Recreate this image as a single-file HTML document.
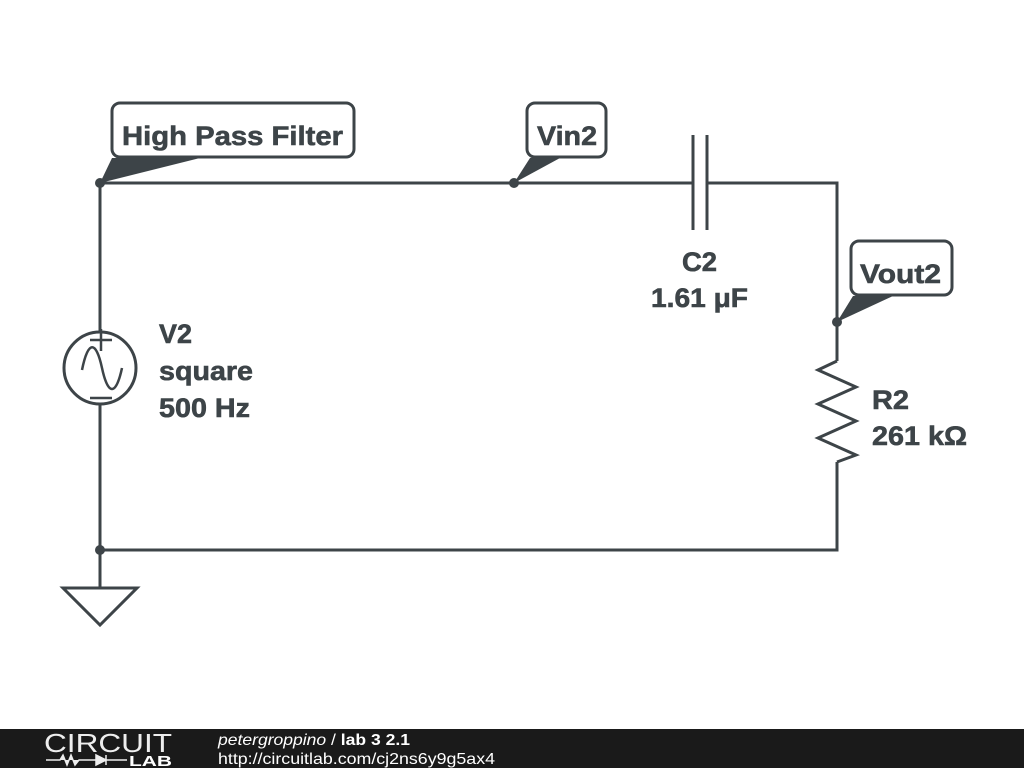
<!DOCTYPE html>
<html><head><style>
body{margin:0;width:1024px;height:768px;background:#fff;overflow:hidden;position:relative;font-family:"Liberation Sans","DejaVu Sans",sans-serif}
.bar{position:absolute;left:0;top:729px;width:1024px;height:39px;background:#1a1a1a}
</style></head><body>
<svg width="1024" height="768" style="position:absolute;left:0;top:0">
<g stroke="#3d4448" stroke-width="3" fill="none">
<path d="M100 183 H693 M707 183 H837 V361 M837 462 V550 H100 V183"/>
<path d="M693 135 V230 M707 135 V230"/>
<path d="M100 550 V588"/>
<path d="M63 588 H137 L100 625 Z"/>
<path d="M837 361 L818 370 L856 387 L818 404 L856 421 L818 438 L856 455 L837 462"/>
<circle cx="100" cy="368" r="36" fill="#fff"/>
<path d="M100 311 V332 M100 404 V420" />
<path d="M90 340 H112 M101 329 V351 M90 398 H112" stroke-width="2.5"/>
<path d="M82 370 C88 340 96 340 102 368 C108 396 116 396 122 368" stroke-width="2.5"/>
<rect x="112" y="103" width="242" height="54" rx="8" fill="#fff"/>
<rect x="527" y="103" width="79" height="54" rx="8" fill="#fff"/>
<rect x="851" y="241" width="101" height="54" rx="8" fill="#fff"/>
</g>
<g fill="#3d4448">
<path d="M100 183 L112 158 L200 158 Z"/>
<path d="M514 183 L530 158 L560 158 Z"/>
<path d="M837 322 L853 296 L893 296 Z"/>
<circle cx="100" cy="183" r="5"/><circle cx="514" cy="183" r="5"/>
<circle cx="837" cy="322" r="5"/><circle cx="100" cy="550" r="5"/>
</g>
<g fill="#3d4448" stroke="#3d4448" stroke-width="0.6" style="font-weight:bold;font-size:27px;font-family:'Liberation Sans',sans-serif">
<text x="122" y="145" textLength="221" lengthAdjust="spacingAndGlyphs">High Pass Filter</text>
<text x="537" y="145" textLength="60" lengthAdjust="spacingAndGlyphs">Vin2</text>
<text x="860" y="283" textLength="81" lengthAdjust="spacingAndGlyphs">Vout2</text>
<text x="682" y="271" textLength="35" lengthAdjust="spacingAndGlyphs">C2</text>
<text x="651" y="307" textLength="97" lengthAdjust="spacingAndGlyphs">1.61 μF</text>
<text x="159" y="343" textLength="33" lengthAdjust="spacingAndGlyphs">V2</text>
<text x="159" y="380" textLength="94" lengthAdjust="spacingAndGlyphs">square</text>
<text x="159" y="417" textLength="91" lengthAdjust="spacingAndGlyphs">500 Hz</text>
<text x="872" y="409" textLength="37" lengthAdjust="spacingAndGlyphs">R2</text>
<text x="872" y="445" textLength="95" lengthAdjust="spacingAndGlyphs">261 kΩ</text>
</g>
<g fill="#fff" font-family="Liberation Sans, sans-serif">
<text x="44" y="752" font-size="26" textLength="128" lengthAdjust="spacingAndGlyphs" fill="#eee">CIRCUIT</text>
<text x="129" y="766" font-size="15" font-weight="bold" textLength="43" lengthAdjust="spacingAndGlyphs">LAB</text>
<text x="218" y="745" font-size="16" textLength="192" lengthAdjust="spacingAndGlyphs"><tspan font-style="italic">petergroppino</tspan> / <tspan font-weight="bold">lab 3 2.1</tspan></text>
<text x="218" y="764" font-size="16" textLength="277" lengthAdjust="spacingAndGlyphs">http://circuitlab.com/cj2ns6y9g5ax4</text>
</g>
<path d="M46 760 H60 L63 755 L67 765 L71 755 L75 765 L79 760 H96 M96 755 V765 L106 760 Z M106 755 V765 M106 760 H127" stroke="#eee" stroke-width="1.5" fill="#eee"/>
</svg>
<div class="bar" style="z-index:-1"></div>
</body></html>
